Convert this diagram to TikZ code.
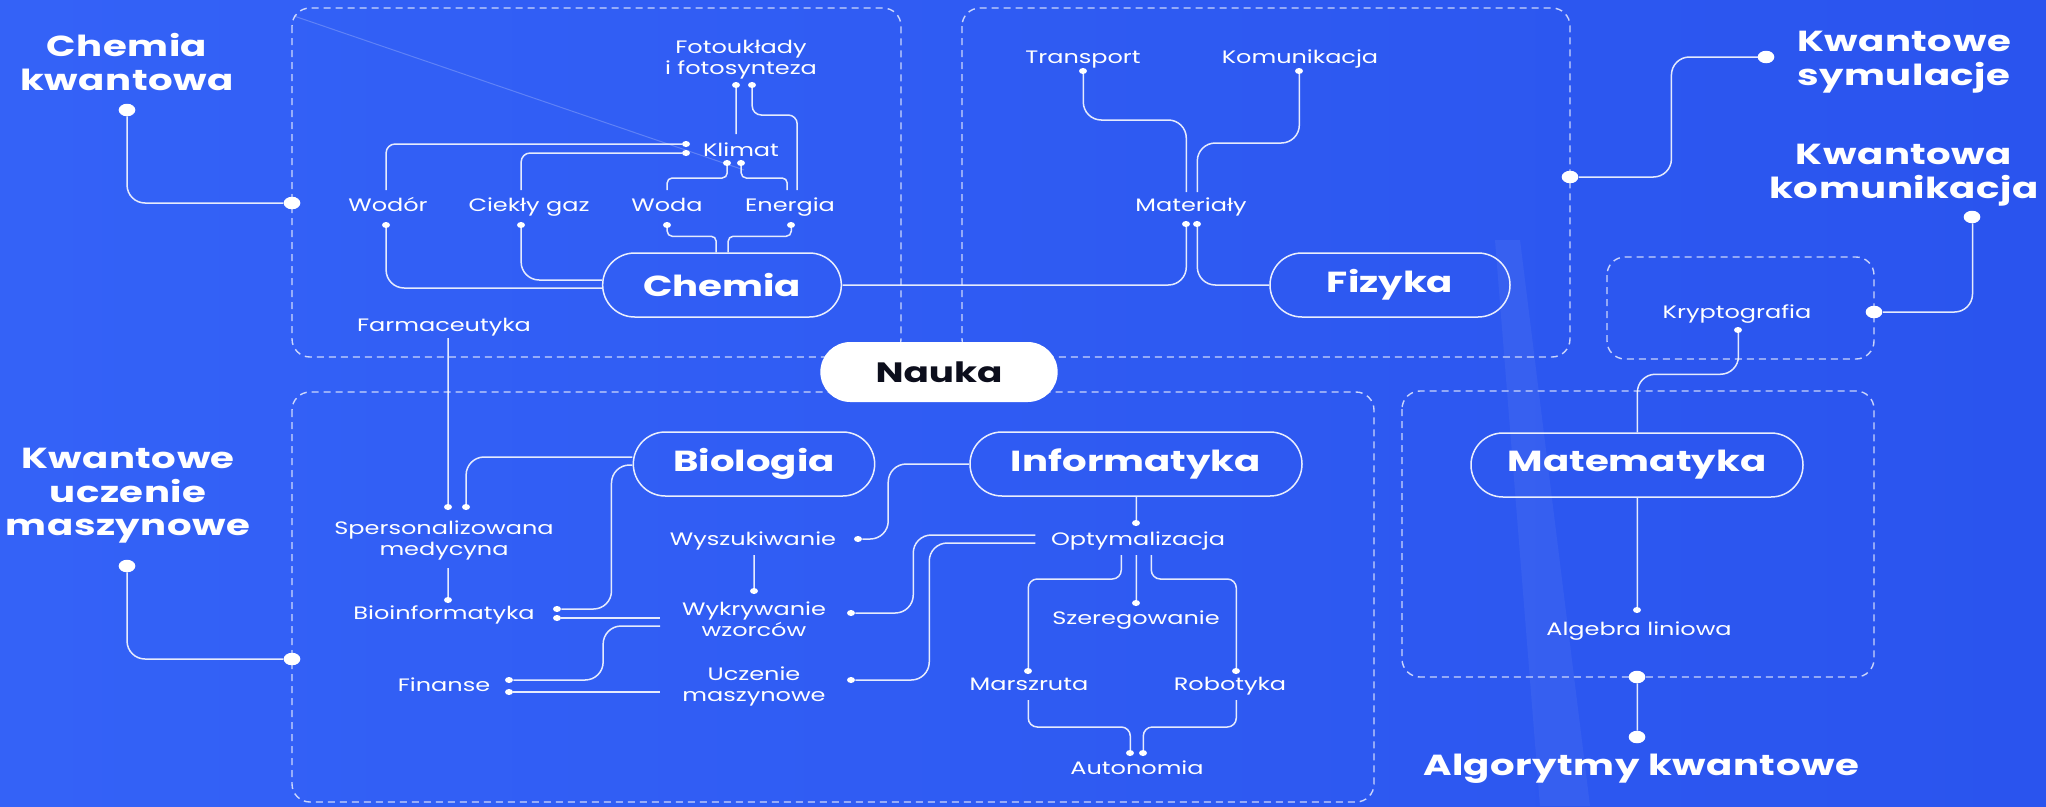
\documentclass[tikz,border=0pt]{standalone}
\usepackage{fontspec}
\setmainfont{Poppins}
\newfontfamily\headfont[LetterSpace=1.2]{Poppins}
\usetikzlibrary{calc}
\definecolor{bgblue}{RGB}{46,90,243}
\definecolor{bgleft}{RGB}{52,98,247}
\definecolor{bgright}{RGB}{42,84,238}
\definecolor{inkdark}{RGB}{12,14,28}
\begin{document}
\begin{tikzpicture}[x=0.75pt, y=-1pt, xscale=1.33333,
  every node/.style={transform shape},
  conn/.style={draw=white, draw opacity=0.88, line width=1.5pt, rounded corners=9pt},
  bigconn/.style={conn, rounded corners=18pt},
  tight/.style={conn, rounded corners=5pt},
  dashbox/.style={draw=white, draw opacity=0.75, line width=1.4pt, dash pattern=on 7pt off 5pt, rounded corners=18pt},
  sdot/.style={circle, fill=white, draw=none, minimum size=6pt, inner sep=0pt},
  bdot/.style={circle, fill=white, draw=none, minimum size=12.5pt, inner sep=0pt},
  lbl/.style={text=white, font=\fontsize{18}{21}\selectfont, inner sep=0pt, text height=13pt, text depth=0pt},
  mlbl/.style={text=white, font=\fontsize{18}{21}\selectfont, inner sep=0pt, align=center},
  head/.style={text=white, font=\headfont\fontsize{29}{33.5}\selectfont\bfseries, inner sep=0pt, align=center},
  pill/.style={draw=white, draw opacity=0.9, line width=1.5pt, rounded corners=32pt, minimum height=64pt, minimum width=179pt, inner sep=0pt, text=white, font=\fontsize{29}{34}\selectfont\bfseries},
  widepill/.style={pill, minimum width=249pt}
]
% canvas
\useasboundingbox (0,0) rectangle (2046,806);
\shade[left color=bgleft, right color=bgright] (0,0) rectangle (2046,806);
\draw[white, opacity=0.22, line width=1pt] (294,16) -- (744,170);
\fill[white, opacity=0.05] (1495,240) -- (1520,240) -- (1590,806) -- (1540,806) -- cycle;

% dashed groups
\draw[dashbox] (292,8) rectangle (901,357);
\draw[dashbox] (962,8) rectangle (1570,357);
\draw[dashbox] (292,392) rectangle (1374,802);
\draw[dashbox] (1402,391) rectangle (1874,677);
\draw[dashbox] (1607,257) rectangle (1874,359);

% pills
\node[pill] (chemia) at (722,285) {Chemia};
\node[pill, minimum width=180pt] (fizyka) at (1390,285) {Fizyka};
\node[pill, minimum width=181pt] (biologia) at (754,464) {Biologia};
\node[widepill] (informatyka) at (1136,464) {Informatyka};
\node[widepill] (matematyka) at (1637,465) {Matematyka};
\node[fill=white, rounded corners=30pt, minimum height=60pt, minimum width=178pt, inner sep=0pt,
      text=inkdark, font=\fontsize{28}{32}\selectfont\bfseries] (nauka) at (939,372) {Nauka};

% labels
\node[lbl] (wodor) at (388,205) {Wodór};
\node[lbl] (ciekly) at (529,205) {Ciekły gaz};
\node[lbl] (woda) at (667,205) {Woda};
\node[lbl] (energia) at (790,205) {Energia};
\node[lbl] (klimat) at (741,150) {Klimat};
\node[mlbl] (foto) at (741,60) {Fotoukłady\\i fotosynteza};
\node[lbl] (farm) at (444,325) {Farmaceutyka};
\node[lbl] (transport) at (1083,57) {Transport};
\node[lbl] (komunikacja) at (1300,57) {Komunikacja};
\node[lbl] (materialy) at (1191,205) {Materiały};
\node[mlbl] (spers) at (444,540) {Spersonalizowana\\medycyna};
\node[lbl] (bioinf) at (444,613) {Bioinformatyka};
\node[lbl] (finanse) at (444,685) {Finanse};
\node[lbl] (wysz) at (753,539) {Wyszukiwanie};
\node[mlbl] (wykr) at (754,619) {Wykrywanie\\wzorców};
\node[mlbl] (uczenie) at (754,686) {Uczenie\\maszynowe};
\node[lbl] (optym) at (1138,539) {Optymalizacja};
\node[lbl] (szer) at (1136,618) {Szeregowanie};
\node[lbl] (marsz) at (1029,684) {Marszruta};
\node[lbl] (robot) at (1230,684) {Robotyka};
\node[lbl] (auton) at (1137,768) {Autonomia};
\node[lbl] (krypto) at (1737,312) {Kryptografia};
\node[lbl] (algebra) at (1639,629) {Algebra liniowa};

% headings
\node[head] (hchem) at (127,62) {Chemia\\kwantowa};
\node[head] (hsym) at (1904,62) {Kwantowe\\symulacje};
\node[head] (hkom) at (1904,175) {Kwantowa\\komunikacja};
\node[head] (hucz) at (128,496) {Kwantowe\\uczenie\\maszynowe};
\node[head, text height=20pt, text depth=0pt] (halg) at (1641,765) {Algorytmy kwantowe};

% heading and group junction dots
\node[bdot] (hd1) at (127,110) {};
\node[bdot] (hd2) at (1766,57) {};
\node[bdot] (hd3) at (1972,217) {};
\node[bdot] (hd4) at (127,566) {};
\node[bdot] (hd5) at (1637,737) {};
\node[bdot] (j1) at (292,203) {};
\node[bdot] (j2) at (1570,177) {};
\node[bdot] (j3) at (292,659) {};
\node[bdot] (j4) at (1637,677) {};
\node[bdot] (j5) at (1874,312) {};

% small dots: chemistry
\node[sdot] (kd1) at (686,144) {};
\node[sdot] (kd2) at (686,153) {};
\node[sdot] (kb1) at (727,163) {};
\node[sdot] (kb2) at (741,163) {};
\node[sdot] (fd1) at (736,85) {};
\node[sdot] (fd2) at (752,85) {};
\node[sdot] (wd) at (386,225) {};
\node[sdot] (cd) at (521,225) {};
\node[sdot] (wad) at (667,225) {};
\node[sdot] (ed) at (791,225) {};
% small dots: physics
\node[sdot] (md1) at (1186,224) {};
\node[sdot] (md2) at (1197,224) {};
\node[sdot] (td) at (1083,71) {};
\node[sdot] (kod) at (1299,71) {};
% small dots: biology and computing
\node[sdot] (sd1) at (448,507) {};
\node[sdot] (sd2) at (466,507) {};
\node[sdot] (bid) at (448,600) {};
\node[sdot] (bd1) at (557,609) {};
\node[sdot] (bd2) at (557,618) {};
\node[sdot] (fn1) at (509,680) {};
\node[sdot] (fn2) at (509,692) {};
\node[sdot] (wsd) at (858,539) {};
\node[sdot] (wkd) at (754,591) {};
\node[sdot] (wrd) at (851,613) {};
\node[sdot] (urd) at (851,680) {};
\node[sdot] (od) at (1136,523) {};
\node[sdot] (mrd) at (1028,671) {};
\node[sdot] (szd) at (1136,603) {};
\node[sdot] (rbd) at (1236,671) {};
\node[sdot] (ad1) at (1130,753) {};
\node[sdot] (ad2) at (1143,753) {};
% small dots: mathematics
\node[sdot] (krd) at (1738,330) {};
\node[sdot] (ald) at (1637,610) {};

% line ends next to labels
\coordinate (wodor-n) at (386,190);
\coordinate (ciekly-n) at (521,190);
\coordinate (woda-n) at (667,190);
\coordinate (energia-n1) at (787,190);
\coordinate (energia-n2) at (797,190);
\coordinate (klimat-n) at (736,134);
\coordinate (mat-n1) at (1186,192);
\coordinate (mat-n2) at (1197,192);
\coordinate (farm-s) at (448,338);
\coordinate (med-s) at (448,568);
\coordinate (wyk-w1) at (660,618);
\coordinate (wyk-w2) at (660,626);
\coordinate (ucz-w) at (660,692);
\coordinate (wysz-s) at (754,555);
\coordinate (opt-w1) at (1035,535);
\coordinate (opt-w2) at (1035,543);
\coordinate (opt-s1) at (1121,555);
\coordinate (opt-s2) at (1136,555);
\coordinate (opt-s3) at (1151,555);
\coordinate (mar-s) at (1028,700);
\coordinate (rob-s) at (1236,700);

% headings to groups
\draw[bigconn] (hd1) |- (j1);
\draw[bigconn] (hd4) |- (j3);
\draw[bigconn] (j2) -| ($(hd2)+(-95,0)$) -- (hd2);
\draw[bigconn] (hd3) |- (j5);
\draw[conn] (j4) -- (hd5);

% chemistry
\draw[conn] (kd1) -| (wodor-n);
\draw[conn] (kd2) -| (ciekly-n);
\draw[tight] (kb1) |- ($(woda-n)+(0,-12)$) -- (woda-n);
\draw[tight] (kb2) |- ($(energia-n1)+(0,-12)$) -- (energia-n1);
\draw[conn] (fd1) -- (klimat-n);
\draw[conn] (fd2) |- ($(energia-n2)+(0,-75)$) -- (energia-n2);
\draw[bigconn] (wd) |- ($(chemia.west)+(0,3)$);
\draw[bigconn] (cd) |- ($(chemia.west)+(0,-5)$);
\draw[tight] (wad) |- ($(chemia.north)+(-6,-16)$) -- ($(chemia.north)+(-6,0)$);
\draw[tight] (ed) |- ($(chemia.north)+(6,-16)$) -- ($(chemia.north)+(6,0)$);
\draw[bigconn] (farm-s) -- (sd1);

% physics
\draw[bigconn] (chemia.east) -| (md1);
\draw[bigconn] (fizyka.west) -| (md2);
\draw[bigconn] (td) |- ($(mat-n1)+(0,-72)$) -- (mat-n1);
\draw[bigconn] (kod) |- ($(mat-n2)+(0,-49)$) -- (mat-n2);

% biology
\draw[bigconn] (sd2) |- ($(biologia.west)+(0,-7)$);
\draw[conn] (med-s) -- (bid);
\draw[bigconn] (bd1) -| ($(biologia.west)+(-21,1)$) -- ($(biologia.west)+(0,1)$);
\draw[conn] (bd2) -- (wyk-w1);
\draw[bigconn] (fn1) -| ($(wyk-w2)+(-57,0)$) -- (wyk-w2);
\draw[conn] (fn2) -- (ucz-w);

% computing
\draw[bigconn] (wsd) -| ($(informatyka.west)+(-81,0)$) -- (informatyka.west);
\draw[conn] (wysz-s) -- (wkd);
\draw[bigconn] (wrd) -| ($(opt-w1)+(-122,0)$) -- (opt-w1);
\draw[bigconn] (urd) -| ($(opt-w2)+(-106,0)$) -- (opt-w2);
\draw[conn] (informatyka.south) -- (od);
\draw[conn] (opt-s1) |- ($(mrd)+(0,-92)$) -- (mrd);
\draw[conn] (opt-s2) -- (szd);
\draw[conn] (opt-s3) |- ($(rbd)+(0,-92)$) -- (rbd);
\draw[conn] (mar-s) |- ($(ad1)+(0,-26)$) -- (ad1);
\draw[conn] (rob-s) |- ($(ad2)+(0,-26)$) -- (ad2);

% mathematics
\draw[bigconn] (krd) |- ($(matematyka.north)+(0,-58)$) -- (matematyka.north);
\draw[conn] (matematyka.south) -- (ald);
\end{tikzpicture}
\end{document}
